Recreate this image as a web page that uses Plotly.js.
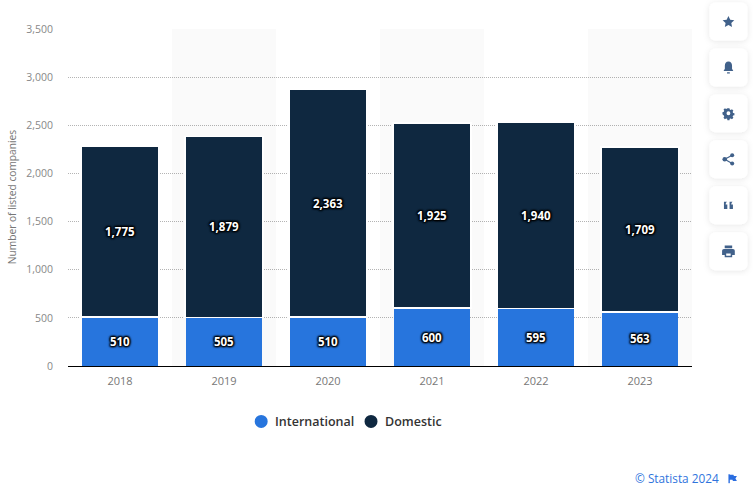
<!DOCTYPE html>
<html><head><meta charset="utf-8">
<script src="https://cdn.plot.ly/plotly-3.0.1.min.js"></script>
<style>html,body{margin:0;padding:0;background:#fff;overflow:hidden}#c{width:753px;height:488px}</style>
</head><body><div id="c"></div>
<script>
const years = ['2018','2019','2020','2021','2022','2023'];
const international = [510,505,510,600,595,563];
const domestic = [1775,1879,2363,1925,1940,1709];
const yTicks = [0,500,1000,1500,2000,2500,3000,3500];
const seriesNames = ['International','Domestic'];
const seriesColors = ['#2775dd','#0f2840'];
const W=753,H=488,L=67.5,R=692.5,T=27.5,B=366;
const FONT='"Open Sans","Noto Sans",sans-serif';
const px=x=>(x-L)/(R-L), py=y=>(B-y)/(B-T);
const labelFont={family:FONT,size:11.5,color:'#fff',weight:700,
  shadow:'0 0 2px #000,0 0 2px #000,1px 1px 2px #000,-1px -1px 2px #000,1px -1px 2px #000,-1px 1px 2px #000'};
function bar(name,vals,color,lineWidth,width){return {type:'bar',name,x:years,y:vals,showlegend:false,
  marker:{color,line:{color:'#fff',width:lineWidth}},width,
  text:vals.map(v=>v.toLocaleString('en-US')),textposition:'inside',insidetextanchor:'middle',
  textangle:0,constraintext:'none',textfont:labelFont,hoverinfo:'y+name',cliponaxis:false};}
const data=[bar(seriesNames[0],international,seriesColors[0],0,0.739),bar(seriesNames[1],domestic,seriesColors[1],1.5,0.7536)];
const bands=[1,3,5].map(i=>({type:'rect',xref:'x',yref:'y',x0:i-0.5,x1:i+0.5,y0:0,y1:3500,
  fillcolor:'rgba(0,0,0,0.02)',line:{width:0},layer:'between'}));
const dots=[261,371].map((cx,i)=>({type:'circle',xref:'paper',yref:'paper',x0:px(cx-6.5),x1:px(cx+6.5),
  y0:py(421.5+6.5),y1:py(421.5-6.5),fillcolor:seriesColors[i],line:{width:0}}));
const ICONS={
 star:'<path d="M12 4.500l2.400 5 5.400.7-4 3.800 1 5.400-4.800-2.700-4.800 2.700 1-5.400-4-3.800 5.400-.7z"/>',
 bell:'<path d="M12 4c3.200 0 4.800 2.600 4.800 5.600v4l1.700 3H5.500l1.700-3v-4C7.200 6.600 8.800 4 12 4z"/><rect x="10" y="18.500" width="4" height="1.500" rx=".7"/>',
 gear:'<path fill-rule="evenodd" d="M10.300 4h3.400l.5 2.300 1.700.7 2-1.300 2.400 2.400-1.300 2 .7 1.700 2.300.5v3.400l-2.300.5-.7 1.700 1.300 2-2.400 2.400-2-1.300-1.700.7-.5 2.300h-3.400l-.5-2.300-1.700-.7-2 1.300-2.400-2.400 1.300-2-.7-1.700L2 14v-3.400l2.300-.5.7-1.700-1.300-2 2.400-2.400 2 1.300 1.700-.7zM12 9.200a3.200 3.200 0 100 6.400 3.200 3.200 0 000-6.400z" transform="translate(2.400 1.900) scale(.8)"/>',
 share:'<circle cx="7" cy="12" r="3"/><circle cx="17" cy="6.500" r="2.700"/><circle cx="17" cy="17.500" r="2.700"/><path d="M7 12L17 6.500M7 12l10 5.500" stroke="#41618a" stroke-width="1.600"/>',
 quote:'<path d="M6 7.500h4c-1.500 1.300-1.700 2.800-1.700 3.500H10.500V17H6zM13.500 7.500h4c-1.500 1.300-1.700 2.800-1.700 3.500H18V17h-4.500z"/>',
 print:'<path fill-rule="evenodd" d="M7 4.500h10v3.500H7zM6 9h12a2.500 2.500 0 012.500 2.500V17H17v3H7v-3H3.500v-5.500A2.500 2.500 0 016 9zm3 6v3.200h6V15z"/>'
};
const order=['star','bell','gear','share','quote','print'];
const images=order.map((k,i)=>{
  const top=-4+46*i;
  const svg='<svg xmlns="http://www.w3.org/2000/svg" width="50" height="50" viewBox="0 0 50 50"><defs><filter id="f" x="-30%" y="-30%" width="160%" height="160%"><feDropShadow dx="0" dy="1" stdDeviation="3" flood-color="#000" flood-opacity=".1"/></filter></defs><rect x="6" y="6" width="38" height="38" rx="6" fill="#fff" filter="url(#f)"/><g transform="translate(16 16) scale(.75)" fill="#41618a">'+ICONS[k]+'</g></svg>';
  return {source:'data:image/svg+xml;base64,'+btoa(svg),xref:'paper',yref:'paper',x:px(704),y:py(top),
    sizex:50/(R-L),sizey:50/(B-T),xanchor:'left',yanchor:'top',sizing:'stretch',layer:'above'};
});
const flag='<svg xmlns="http://www.w3.org/2000/svg" width="10" height="10" viewBox="0 0 10 10"><path d="M1 .5h1.400v9H1zM2.400 1h3.600l.5 1.200H9.500L8 4.700l1.500 2.400H5.500L5 5.900H2.400z" fill="#2a6de0"/></svg>';
images.push({source:'data:image/svg+xml;base64,'+btoa(flag),xref:'paper',yref:'paper',x:px(728),y:py(474),
  sizex:10/(R-L),sizey:10/(B-T),xanchor:'left',yanchor:'top',sizing:'stretch',layer:'above'});
const legendFont={family:FONT,size:12.5,color:'#333',weight:600};
const layout={width:W,height:H,margin:{l:L,r:W-R,t:T,b:H-B,pad:0},
  paper_bgcolor:'#fff',plot_bgcolor:'rgba(0,0,0,0)',barmode:'stack',showlegend:false,
  font:{family:FONT},
  xaxis:{type:'category',range:[-0.5,5.5],tickfont:{family:FONT,size:11,color:'#777'},ticks:'',
    showgrid:false,showline:true,linecolor:'#000',linewidth:1,ticklabelstandoff:5,zeroline:false},
  yaxis:{range:[0,3510.4],tickvals:yTicks,ticktext:yTicks.map(v=>v.toLocaleString('en-US')),
    tickfont:{family:FONT,size:10.5,color:'#888'},ticks:'',showline:false,zeroline:false,
    gridcolor:'#b4b4b4',griddash:'1px,1px',gridwidth:1,ticklabelstandoff:14,
    title:{text:'Number of listed companies',font:{family:FONT,size:10.2,color:'#777'},standoff:7}},
  shapes:[...bands,...dots],images,
  annotations:[
   {text:seriesNames[0],xref:'paper',yref:'paper',x:px(272.5),y:py(421.5),xanchor:'left',yanchor:'middle',showarrow:false,font:legendFont},
   {text:seriesNames[1],xref:'paper',yref:'paper',x:px(383.5),y:py(421.5),xanchor:'left',yanchor:'middle',showarrow:false,font:legendFont},
   {text:'© Statista 2024',xref:'paper',yref:'paper',x:px(722),y:py(478.5),xanchor:'right',yanchor:'middle',
    showarrow:false,font:{family:FONT,size:11.8,color:'#2f74dd'}}]};
Plotly.newPlot('c',data,layout,{displayModeBar:false,staticPlot:true});
</script></body></html>
